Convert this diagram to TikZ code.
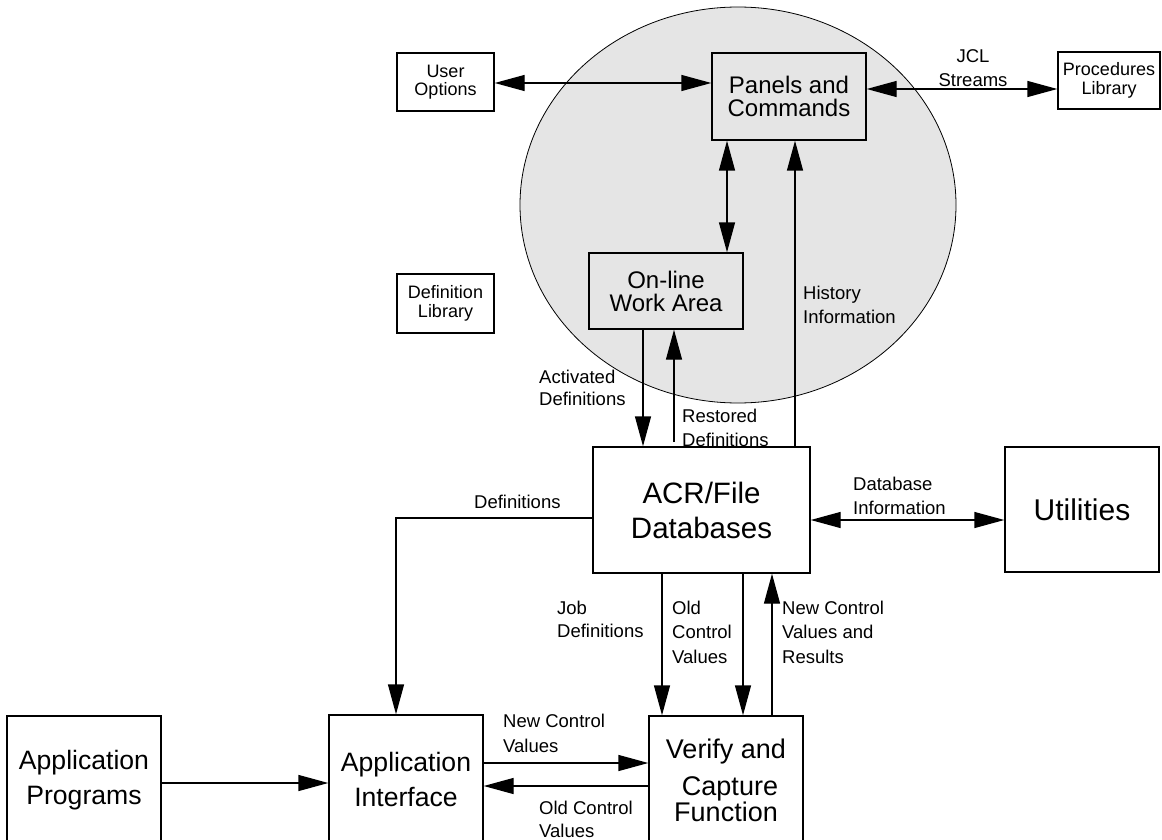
\documentclass[tikz,border=0pt]{standalone}
\usepackage{fontspec}
\setmainfont{Liberation Sans}
\usetikzlibrary{arrows.meta,calc,positioning}

\tikzset{
	box/.style={draw, line width=1.4pt, align=center, inner sep=0pt},
	smallbox/.style={box, minimum width=97pt, minimum height=58pt, font=\fontsize{18}{18.5}\selectfont},
	lbl/.style={align=left, inner sep=0pt, anchor=base west, font=\fontsize{18.5}{23}\selectfont},
	flow/.style={line width=1.4pt, -{Triangle[length=30pt,width=16pt]}},
	flowboth/.style={line width=1.4pt, {Triangle[length=30pt,width=16pt]}-{Triangle[length=30pt,width=16pt]}}
}

\begin{document}
\begin{tikzpicture}[x=1pt,y=-1pt]
		\useasboundingbox (0,0) rectangle (1162,840);
		% shaded on-line area
		\draw[line width=0.8pt, fill=black!10] (738,205) ellipse [x radius=218, y radius=198];

		% boxes
		\node (panels) [box, minimum width=154pt, minimum height=87pt, font=\fontsize{24}{23}\selectfont] at (789,96.5) {Panels and\\Commands};
		\node (useropt) [smallbox] at (445.5,82) {User\\Options};
		\node (proclib) [smallbox, minimum width=102pt, minimum height=57pt] at (1109,80.5) {Procedures\\Library};
		\node (deflib) [smallbox, minimum height=59pt] at (445.5,303.5) {Definition\\Library};
		\node (online) [box, minimum width=154pt, minimum height=76pt, font=\fontsize{24}{23}\selectfont] at (666,291) {On-line\\Work Area};
		\node (acrdb) [box, minimum width=217pt, minimum height=126pt, font=\fontsize{29.5}{35}\selectfont] at (701.5,510) {ACR/File\\Databases};
		\node (util) [box, minimum width=154pt, minimum height=125pt, font=\fontsize{30}{35}\selectfont] at (1082,509.5) {Utilities};
		\node (appprog) [box, minimum width=154pt, minimum height=128pt, font=\fontsize{26.6}{35}\selectfont] at (84,780) {Application\\Programs};
		\node (appif) [box, minimum width=154pt, minimum height=128pt, font=\fontsize{26.6}{35}\selectfont] at (406,779) {Application\\Interface};
		\node (verify) [box, minimum width=154pt, minimum height=128pt, font=\fontsize{27}{30}\selectfont] at (726,780) {Verify and\\[7pt]\hspace*{8pt}Capture\\[-4pt]Function};

		% connectors
		\draw[flowboth] (useropt.east |- 0,83) -- (panels.west |- 0,83);
		\draw[flowboth] (panels.east |- 0,89) -- (proclib.west |- 0,89);
		\draw[flowboth] (panels.south -| 727,0) -- (online.north -| 727,0);
		\draw[flow] (acrdb.north -| 795,0) -- (panels.south -| 795,0);
		\draw[flow] (online.south -| 643,0) -- (acrdb.north -| 643,0);
		\coordinate (rstart) at (674,442);
		\draw[flow] (rstart) -- (online.south -| rstart);
		\draw[flowboth] (acrdb.east |- 0,520) -- (util.west |- 0,520);
		\draw[flow] (acrdb.west |- 0,518) -| (appif.north -| 396,0);
		\draw[flow] (acrdb.south -| 662,0) -- (verify.north -| 662,0);
		\draw[flow] (acrdb.south -| 743,0) -- (verify.north -| 743,0);
		\draw[flow] (verify.north -| 772,0) -- (acrdb.south -| 772,0);
		\draw[flow] (appprog.east |- 0,783) -- (appif.west |- 0,783);
		\draw[flow] (appif.east |- 0,763) -- (verify.west |- 0,763);
		\draw[flow] (verify.west |- 0,786) -- (appif.east |- 0,786);

		% labels (anchored at the baseline of their last line)
		\node (ljcl) [lbl, anchor=base, align=center, font=\fontsize{18.5}{24}\selectfont] at (973,87) {JCL\\Streams};
		\node (lhist) [lbl, font=\fontsize{18.5}{24}\selectfont] at (803,323) {History\\Information};
		\node (lactiv) [lbl, font=\fontsize{18.5}{22}\selectfont] at (539,405) {Activated\\Definitions};
		\node (lrestore) [lbl, font=\fontsize{18.5}{24}\selectfont] at (682,446) {Restored\\Definitions};
		\node (ldbinfo) [lbl, font=\fontsize{18.5}{24}\selectfont] at (853,514) {Database\\Information};
		\node (ldefs) [lbl] at (474,508) {Definitions};
		\node (ljob) [lbl] at (557,637) {Job\\Definitions};
		\node (loldv) [lbl, font=\fontsize{18.5}{24.5}\selectfont] at (672,663) {Old\\Control\\Values};
		\node (lnewv) [lbl, font=\fontsize{18.5}{24.5}\selectfont] at (782,663) {New Control\\Values and\\Results};
		\node (lnewh) [lbl, font=\fontsize{18.5}{25}\selectfont] at (503,752) {New Control\\Values};
		\node (loldh) [lbl] at (539,837) {Old Control\\Values};
\end{tikzpicture}
\end{document}
